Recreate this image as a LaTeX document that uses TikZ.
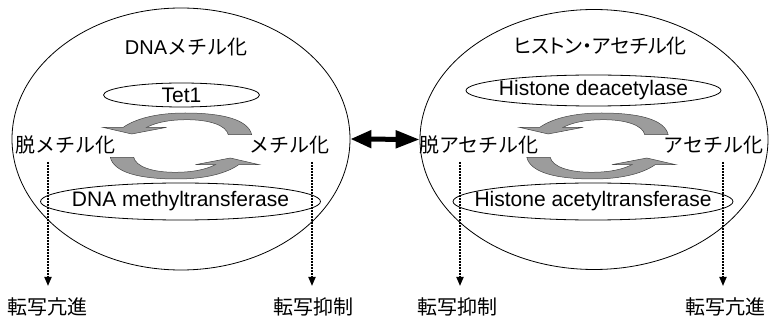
\documentclass[tikz,border=0pt]{standalone}
\usepackage{fontspec}
\setmainfont{Liberation Sans}
\newfontfamily\jp{Noto Sans CJK JP}
\newfontfamily\jpp[RawFeature=+palt]{Noto Sans CJK JP}
\usetikzlibrary{shapes.geometric,arrows.meta}
\definecolor{arrowgray}{HTML}{9C9C9C}
\definecolor{edgegray}{HTML}{444444}
\tikzset{
  bigell/.style={draw, ellipse, line width=0.8pt, inner sep=0pt},
  enzell/.style={draw, ellipse, line width=0.8pt, inner sep=0pt},
  txt/.style={inner sep=0pt, font=\fontsize{21}{24}\selectfont},
  jtxt/.style={inner sep=0pt, font=\fontsize{20}{24}\selectfont\jp},
  dotarrow/.style={line width=1.7pt, dash pattern=on 1.6pt off 1.4pt, -{Triangle[length=9pt,width=7pt]}},
  cyc/.style={fill=arrowgray, draw=edgegray, line width=0.5pt},
  dbl/.style={line width=5pt, {Triangle[length=21pt,width=17pt]}-{Triangle[length=24pt,width=17pt]}},
  cycarrow/.pic={
    \path[cyc] (70.7,-11.3) .. controls (67,-27) and (40,-33) .. (4,-33)
      .. controls (-25,-33) and (-46,-27) .. (-57.7,-18.7)
      -- (-78.3,-18.7) -- (-49.3,-12) -- (-14.3,-18.7) -- (-34.3,-18.7)
      .. controls (-24,-24) and (-10,-26.3) .. (5.7,-26.3)
      .. controls (28,-26.3) and (45,-21) .. (47.3,-11.3) -- cycle;
  }
}
\begin{document}
\begin{tikzpicture}[x=1pt,y=-1pt]
\useasboundingbox (0,0) rectangle (771,320);
% ---------- left: DNA methylation ----------
\node[bigell, minimum width=338pt, minimum height=262pt] (L) at (181,139) {};
\node[jtxt] (Ltitle) at (186,47.5) {{\fontspec{Liberation Sans}DNA}メチル化};
\node[enzell, minimum width=156pt, minimum height=24pt] (tet) at (181.5,95) {};
\node[txt] (tett) at (tet) {Tet1};
\node[enzell, minimum width=280pt, minimum height=37pt] (dnmt) at (180.5,201.5) {};
\node[txt] (dnmtt) at (dnmt) {DNA methyltransferase};
\node[jtxt] (Ldem) at (65,145) {脱メチル化};
\node[jtxt] (Lmet) at (289,145) {メチル化};
\node[jtxt] (Lb1) at (48,307) {転写亢進};
\node[jtxt] (Lb2) at (313,307) {転写抑制};
\coordinate (Ls1) at (48,162);
\coordinate (Le1) at (48,286);
\coordinate (Ls2) at (312,162);
\coordinate (Le2) at (312,286);
\draw[dotarrow] (Ls1) -- (Le1);
\draw[dotarrow] (Ls2) -- (Le2);
\pic at (181,146) {cycarrow};
\pic[rotate=180] at (181,146) {cycarrow};
% ---------- right: histone acetylation ----------
\node[bigell, minimum width=348pt, minimum height=260pt] (R) at (594,139.5) {};
\node[jtxt, font=\fontsize{20}{24}\selectfont\jpp] (Rtitle) at (600,46) {ヒストン・アセチル化};
\node[enzell, minimum width=255pt, minimum height=31pt] (hdac) at (593.5,90.5) {};
\node[txt] (hdact) at (hdac) {Histone deacetylase};
\node[enzell, minimum width=280pt, minimum height=37pt] (hat) at (593,201.5) {};
\node[txt] (hatt) at (hat) {Histone acetyltransferase};
\node[jtxt] (Rdeac) at (479,145) {脱アセチル化};
\node[jtxt] (Rac) at (713.5,145) {アセチル化};
\node[jtxt] (Rb1) at (457,307) {転写抑制};
\node[jtxt] (Rb2) at (725,307) {転写亢進};
\coordinate (Rs1) at (460,162);
\coordinate (Re1) at (460,286);
\coordinate (Rs2) at (723,162);
\coordinate (Re2) at (723,286);
\draw[dotarrow] (Rs1) -- (Re1);
\draw[dotarrow] (Rs2) -- (Re2);
\pic at (597.5,146) {cycarrow};
\pic[rotate=180] at (597.5,146) {cycarrow};
% ---------- link ----------
\draw[dbl] (L.east) -- (R.west);
\end{tikzpicture}
\end{document}
